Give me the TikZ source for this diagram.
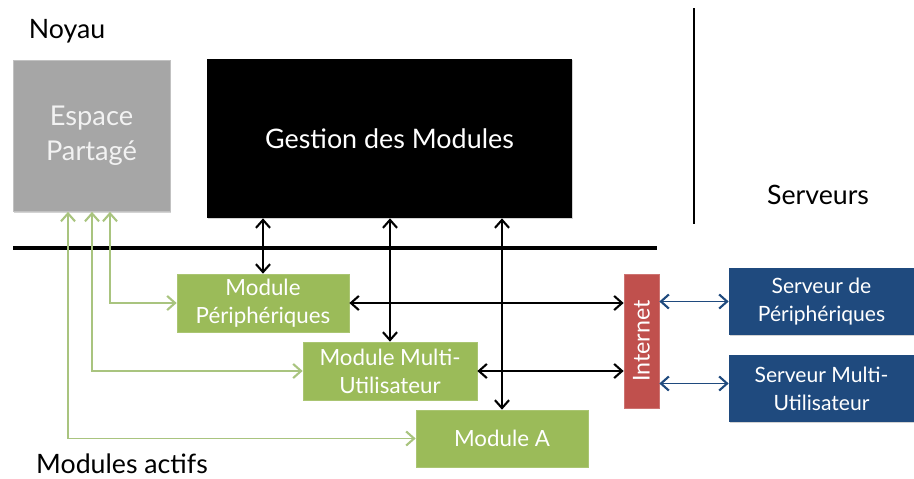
\documentclass[tikz,border=0pt]{standalone}
\usepackage{fontspec}
\setmainfont{Lato}
\usetikzlibrary{arrows.meta, positioning, calc, shadows}

\definecolor{modgreen}{HTML}{9BBB59}
\definecolor{linkgreen}{HTML}{A9C47F}
\definecolor{netred}{HTML}{C0504D}
\definecolor{srvblue}{HTML}{1F4A7E}
\definecolor{sharegray}{HTML}{A6A6A6}

\begin{document}
\begin{tikzpicture}[
    x=0.02cm, y=-0.02cm,
    box/.style={inner sep=0pt, align=center, text=white, font=\fontsize{12.7}{16}\selectfont,
        drop shadow={shadow xshift=0.6pt, shadow yshift=-0.6pt, opacity=0.35}},
    modbox/.style={box, fill=modgreen, draw=modgreen!85!white, minimum width=3.44cm, minimum height=1.16cm},
    srvbox/.style={box, fill=srvblue, minimum width=3.7cm, minimum height=1.34cm, font=\fontsize{12}{16}\selectfont},
    title/.style={font=\fontsize{15.2}{18}\selectfont},
    bus/.style={<->, line width=0.8pt, >={Straight Barb[length=4.5pt, width=8pt, line width=1.2pt]}},
    netlink/.style={bus, draw=srvblue},
    share/.style={<->, draw=linkgreen, line width=0.8pt, >={Straight Barb[length=4.5pt, width=8pt, line width=1.2pt]}},
]
\useasboundingbox (0,0) rectangle (914,478);

% noyau
\node[title] (noyau) at (67,31) {Noyau};
\node[box, fill=sharegray, draw=sharegray!70!white, text=white!95!black,
      minimum width=3.14cm, minimum height=3.02cm, font=\fontsize{15.5}{20}\selectfont]
      (espace) at (91.5,136) {Espace\\Partagé};
\node[box, fill=black, minimum width=7.3cm, minimum height=3.18cm, font=\fontsize{15.3}{18}\selectfont]
      (gestion) at (389.5,138.5) {Gestion des Modules};

% separations
\draw[line width=2.2pt] (13,248) -- (657,248);
\draw[line width=1.7pt] (694,8) -- (694,224);
\node[title] (serveurs) at (818,195) {Serveurs};
\node[title] (actifs) at (122,464) {Modules actifs};

% modules actifs
\node[modbox] (modP) at (263,303) {Module\\Périphériques};
\node[modbox, minimum width=3.48cm] (modMU) at (390,371) {Module Multi-\\Utilisateur};
\node[modbox, minimum height=1.14cm] (modA) at (502,438.5) {Module A};

% internet et serveurs
\node[box, fill=netred, draw=netred!80!white, rotate=90, minimum width=2.68cm, minimum height=0.7cm,
      font=\fontsize{13.2}{16}\selectfont]
      (internet) at (641.5,341) {Internet};
\node[srvbox] (srvP) at (821.5,301.5) {Serveur de\\Périphériques};
\node[srvbox] (srvMU) at (821.5,388.5) {Serveur Multi-\\Utilisateur};

% liaisons gestion
\draw[bus] (gestion.south -| modP.north) -- (modP.north);
\draw[bus] (gestion.south -| modMU.north) -- (modMU.north);
\draw[bus] (gestion.south -| modA.north) -- (modA.north);

% liaisons internet
\draw[bus] (modP.east) -- (modP.east -| internet.north);
\draw[bus] (modMU.east) -- (modMU.east -| internet.north);
\draw[netlink] (srvP.west -| internet.south) -- (srvP.west);
\draw[netlink] ([yshift=0.1cm]srvMU.west -| internet.south) -- ([yshift=0.1cm]srvMU.west);

% espace partage
\draw[share] ([xshift=0.37cm]espace.south) |- (modP.west);
\draw[share] ([xshift=0.01cm]espace.south) |- (modMU.west);
\draw[share] ([xshift=-0.47cm]espace.south) |- (modA.west);
\end{tikzpicture}
\end{document}
